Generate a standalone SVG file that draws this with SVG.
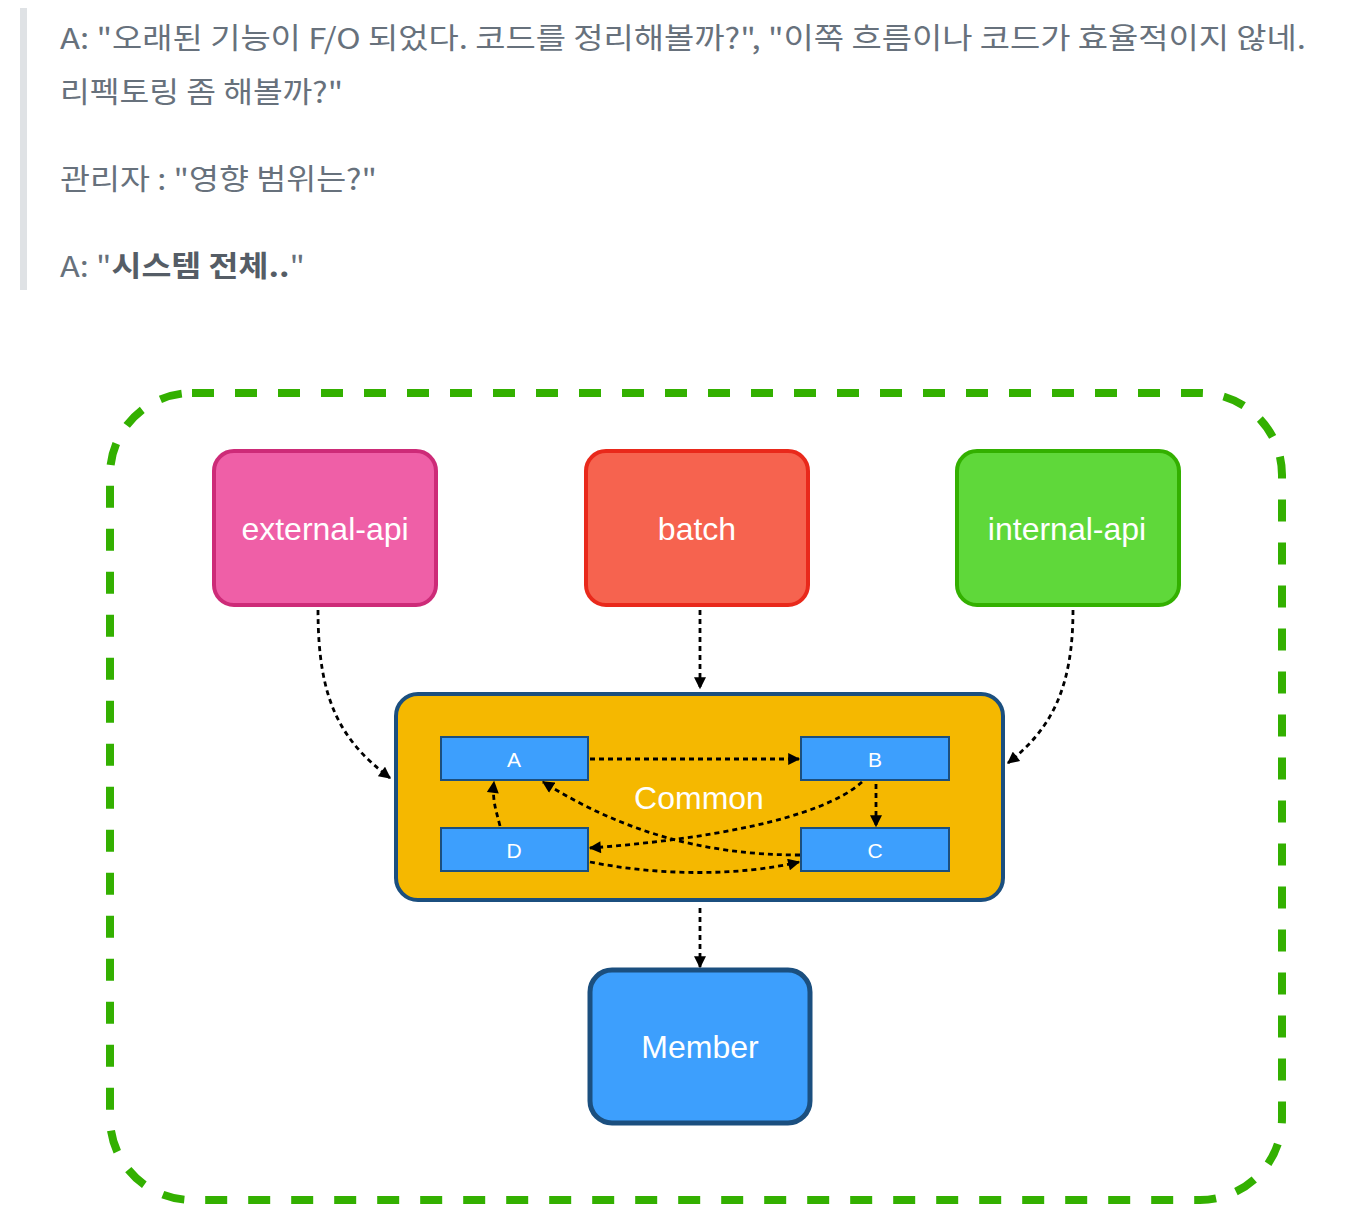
<svg xmlns="http://www.w3.org/2000/svg" width="1362" height="1230" viewBox="0 0 1362 1230">
<style>
.q{font-family:"Noto Sans CJK KR","Noto Sans",sans-serif;font-size:29px;fill:#67717c}
.lbl{font-family:"Liberation Sans",Arial,sans-serif;fill:#ffffff;text-anchor:middle;dominant-baseline:central}
.big{font-size:32px}
.small{font-size:21px}
.conn{fill:none;stroke:#000;stroke-width:2.8;stroke-dasharray:5 4}
</style>
<defs>
<marker id="ah" viewBox="0 0 10 10" refX="9" refY="5" markerWidth="13" markerHeight="12" markerUnits="userSpaceOnUse" orient="auto">
<path d="M0,0 L10,5 L0,10 Z" fill="#000"/>
</marker>
</defs>
<rect x="20" y="8" width="7" height="282" fill="#dfe2e5"/>
<text class="q" x="60" y="49" textLength="1246" lengthAdjust="spacingAndGlyphs">A: "오래된 기능이 F/O 되었다. 코드를 정리해볼까?", "이쪽 흐름이나 코드가 효율적이지 않네.</text>
<text class="q" x="60" y="103" textLength="283" lengthAdjust="spacingAndGlyphs">리펙토링 좀 해볼까?"</text>
<text class="q" x="60" y="190" textLength="317" lengthAdjust="spacingAndGlyphs">관리자 : "영향 범위는?"</text>
<text class="q" x="60" y="277" textLength="245" lengthAdjust="spacingAndGlyphs">A: "<tspan font-weight="bold" fill="#555d66">시스템 전체..</tspan>"</text>

<g id="boundary">
<rect x="110" y="393" width="1172" height="807" rx="82" ry="82" fill="none" stroke="#33b000" stroke-width="8" stroke-dasharray="22 21"/>
</g>
<g id="external-api">
<rect x="214" y="451" width="222" height="154" rx="20" fill="#ef5fa7" stroke="#cd2b78" stroke-width="4"/>
<text class="lbl big" x="325" y="529">external-api</text>
</g>
<g id="batch">
<rect x="586" y="451" width="222" height="154" rx="20" fill="#f6634f" stroke="#e9291b" stroke-width="4"/>
<text class="lbl big" x="697" y="529">batch</text>
</g>
<g id="internal-api">
<rect x="957" y="451" width="222" height="154" rx="20" fill="#5fd83a" stroke="#33b000" stroke-width="4"/>
<text class="lbl big" x="1067" y="529">internal-api</text>
</g>
<g id="common">
<rect x="396" y="694" width="607" height="206" rx="22" fill="#f5b800" stroke="#1b4f7f" stroke-width="4"/>
<text class="lbl big" x="699" y="798">Common</text>
</g>
<g id="A">
<rect x="441" y="737" width="147" height="43" fill="#3d9ffd" stroke="#1b4f7f" stroke-width="2"/>
<text class="lbl small" x="514" y="759">A</text>
</g>
<g id="B">
<rect x="801" y="737" width="148" height="43" fill="#3d9ffd" stroke="#1b4f7f" stroke-width="2"/>
<text class="lbl small" x="875" y="759">B</text>
</g>
<g id="D">
<rect x="441" y="828" width="147" height="43" fill="#3d9ffd" stroke="#1b4f7f" stroke-width="2"/>
<text class="lbl small" x="514" y="850">D</text>
</g>
<g id="C">
<rect x="801" y="828" width="148" height="43" fill="#3d9ffd" stroke="#1b4f7f" stroke-width="2"/>
<text class="lbl small" x="875" y="850">C</text>
</g>
<g id="member">
<rect x="590" y="970" width="220" height="153" rx="22" fill="#3d9ffd" stroke="#1b4f7f" stroke-width="5"/>
<text class="lbl big" x="700" y="1047">Member</text>
</g>

<g id="connectors">
<path class="conn" d="M700,610 L700,688" marker-end="url(#ah)"/>
<path class="conn" d="M318,610 C318,700 340,740 390,778" marker-end="url(#ah)"/>
<path class="conn" d="M1073,610 C1073,690 1050,730 1008,763" marker-end="url(#ah)"/>
<path class="conn" d="M700,908 L700,967" marker-end="url(#ah)"/>
<path class="conn" d="M590,759 L799,759" marker-end="url(#ah)"/>
<path class="conn" d="M876,784 L876,826" marker-end="url(#ah)"/>
<path class="conn" d="M500,826 C496,810 492,800 494,782" marker-end="url(#ah)"/>
<path class="conn" d="M800,855 C700,855 620,830 543,782" marker-end="url(#ah)"/>
<path class="conn" d="M862,782 C820,820 700,840 590,848" marker-end="url(#ah)"/>
<path class="conn" d="M590,862 C660,876 740,876 799,862" marker-end="url(#ah)"/>
</g>
</svg>
